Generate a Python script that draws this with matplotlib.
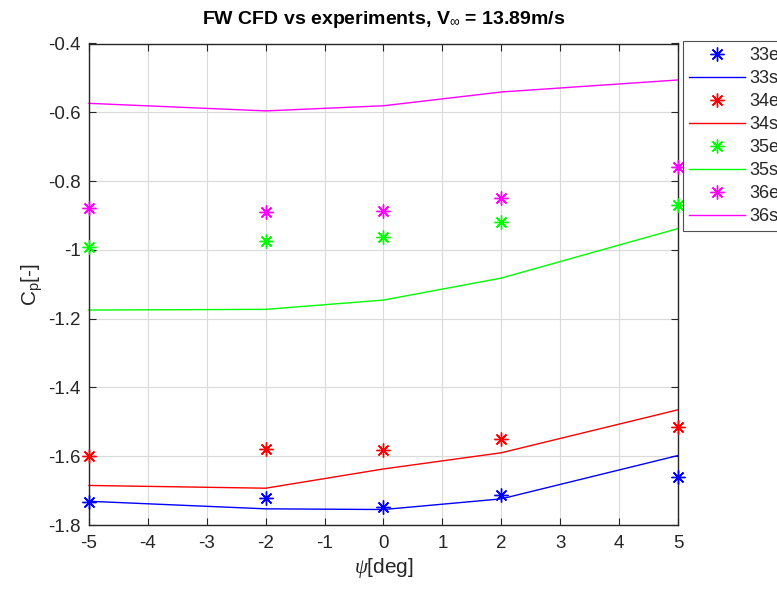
import matplotlib
matplotlib.use("Agg")
import matplotlib.pyplot as plt

plt.rcParams['font.family'] = ['Liberation Sans', 'DejaVu Sans']
plt.rcParams['mathtext.fontset'] = 'custom'
plt.rcParams['mathtext.rm'] = 'Liberation Sans'
plt.rcParams['mathtext.it'] = 'Liberation Serif:italic'

psi = [-5, -2, 0, 2, 5]

exp_33 = [-1.733, -1.722, -1.747, -1.714, -1.661]
sim_33 = [-1.731, -1.753, -1.755, -1.724, -1.598]
exp_34 = [-1.600, -1.580, -1.583, -1.551, -1.515]
sim_34 = [-1.685, -1.693, -1.637, -1.590, -1.465]
exp_35 = [-0.992, -0.975, -0.963, -0.919, -0.870]
sim_35 = [-1.175, -1.173, -1.146, -1.082, -0.938]
exp_36 = [-0.878, -0.891, -0.886, -0.848, -0.760]
sim_36 = [-0.574, -0.596, -0.581, -0.541, -0.506]

series = [
    ("33", exp_33, sim_33, (0, 0, 1)),
    ("34", exp_34, sim_34, (1, 0, 0)),
    ("35", exp_35, sim_35, (0, 1, 0)),
    ("36", exp_36, sim_36, (1, 0, 1)),
]

x_ticks = [-5, -4, -3, -2, -1, 0, 1, 2, 3, 4, 5]
y_ticks = [-1.8, -1.6, -1.4, -1.2, -1.0, -0.8, -0.6, -0.4]
y_tick_labels = ["-1.8", "-1.6", "-1.4", "-1.2", "-1", "-0.8", "-0.6", "-0.4"]

fig = plt.figure(figsize=(7.77, 5.90), dpi=100)
ax = fig.add_axes([89 / 777, 1 - 525 / 590, (678 - 89) / 777, (525 - 43.5) / 590])

asterisk = (8, 2, 0)
for name, e, s, c in series:
    ax.plot(psi, e, linestyle='none', marker=asterisk, markersize=10,
            markeredgewidth=1.0, color=c, label=name + "e", clip_on=False, zorder=3)
    ax.plot(psi, s, linestyle='-', linewidth=1.0, color=c, label=name + "s",
            clip_on=False, zorder=2)

ax.set_xlim(-5, 5)
ax.set_ylim(-1.8, -0.4)
ax.set_xticks(x_ticks)
ax.set_xticklabels([str(v) for v in x_ticks])
ax.set_yticks(y_ticks)
ax.set_yticklabels(y_tick_labels)

dark = '#262626'
ax.grid(True, color='#dadada', linewidth=0.8)
ax.set_axisbelow(True)
for side in ['left', 'bottom', 'top', 'right']:
    ax.spines[side].set_color(dark)
    ax.spines[side].set_linewidth(1.0)
ax.tick_params(axis='both', colors=dark, labelsize=13.5, direction='in', length=5, width=0.8,
               top=True, right=True)
ax.tick_params(axis='x', pad=7)
ax.tick_params(axis='y', pad=6)

ax.set_xlabel(r"$\psi$[deg]", fontsize=15, color=dark, labelpad=3)
ax.set_ylabel(r"C$_\mathrm{p}$[-]", fontsize=15, color=dark, labelpad=2)
ax.set_title(r"FW CFD vs experiments, V$_\infty$ = 13.89m/s", fontsize=14,
             fontweight='bold', color='black', pad=14)

leg = fig.legend(loc='upper left', bbox_to_anchor=(683 / 777, 1 - 41 / 590),
                 fontsize=13, frameon=True, fancybox=False, handlelength=3.1,
                 handletextpad=0.2, labelspacing=0.33, borderpad=0.35,
                 borderaxespad=0, markerfirst=True)
leg.get_frame().set_edgecolor(dark)
leg.get_frame().set_linewidth(0.8)
for t in leg.get_texts():
    t.set_color(dark)

fig.savefig("out.png", dpi=100)
